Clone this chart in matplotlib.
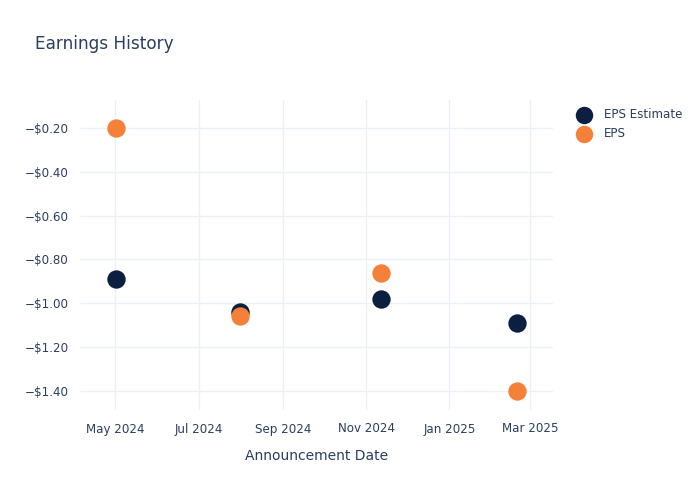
import matplotlib
matplotlib.use("Agg")
import matplotlib.pyplot as plt
from matplotlib.ticker import FuncFormatter
import pandas as pd

dates = ["2024-05-01 12:00", "2024-07-31 12:00", "2024-11-11 18:00", "2025-02-19 12:00"]
eps_estimate = [-0.89, -1.04, -0.98, -1.09]
eps_actual = [-0.20, -1.06, -0.86, -1.40]
tick_dates = ["2024-05-01", "2024-07-01", "2024-09-01", "2024-11-01", "2025-01-01", "2025-03-01"]
tick_labels = ["May 2024", "Jul 2024", "Sep 2024", "Nov 2024", "Jan 2025", "Mar 2025"]
y_ticks = [-0.2, -0.4, -0.6, -0.8, -1.0, -1.2, -1.4]

TEXT = "#2a3f5f"
GRID = "#ebf0f8"
NAVY = "#0b1f41"
ORANGE = "#f5803a"

x = pd.to_datetime(dates, format="ISO8601")

fig = plt.figure(figsize=(7, 5), dpi=100)
ax = fig.add_axes([80/700, 1-410/500, (553-80)/700, (410-100)/500])

ax.scatter(x, eps_estimate, s=175, color=NAVY, label="EPS Estimate", zorder=3, linewidths=0)
ax.scatter(x, eps_actual, s=175, color=ORANGE, label="EPS", zorder=4, linewidths=0)

ax.set_xlim(pd.Timestamp("2024-04-05"), pd.Timestamp("2025-03-18"))
ax.set_ylim(-1.487, -0.072)
ax.set_xticks(pd.to_datetime(tick_dates))
ax.set_xticklabels(tick_labels)
ax.set_yticks(y_ticks)
ax.yaxis.set_major_formatter(FuncFormatter(lambda v, p: "\u2212$%.2f" % abs(v)))

ax.grid(True, color=GRID, linewidth=1)
ax.set_axisbelow(True)
for s in ax.spines.values():
    s.set_visible(False)
ax.tick_params(axis="both", length=0, labelsize=8.6, colors=TEXT)
ax.tick_params(axis="y", pad=8)
ax.tick_params(axis="x", pad=9)
ax.set_xlabel("Announcement Date", fontsize=10, color=TEXT, labelpad=10)

fig.text(35/700, 1-44/500, "Earnings History", fontsize=12.2, color=TEXT, va="center", ha="left")

leg = ax.legend(loc="upper left", bbox_to_anchor=(487/473, 1-3/310), frameon=False,
                fontsize=8.6, labelcolor=TEXT, handletextpad=0.7, labelspacing=0.55,
                markerscale=0.95, borderaxespad=0)

fig.savefig("out.png", dpi=100, facecolor="white")
